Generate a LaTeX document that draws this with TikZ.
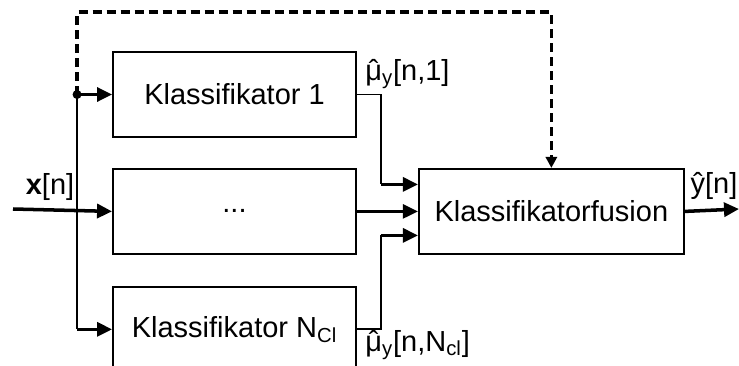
\documentclass[tikz,border=0pt]{standalone}
\usepackage{fontspec}
\setmainfont{Liberation Sans}
\usetikzlibrary{arrows.meta, positioning, calc}

\newcommand{\muhat}{{\ooalign{μ\cr\hidewidth\char"02C6\hidewidth\cr}}}

\begin{document}
\begin{tikzpicture}[x=0.02cm, y=-0.02cm, font=\fontsize{16.5}{19}\selectfont,
  block/.style={draw, line width=1.1pt, minimum width=4.86cm, minimum height=1.7cm, inner sep=0pt},
  wire/.style={line width=1.1pt},
  sig/.style={line width=1.8pt, -{Triangle[length=0.3cm, width=0.28cm]}},
  fb/.style={line width=1.9pt, dash pattern=on 0.18cm off 0.1cm, -{Triangle[length=0.22cm, width=0.22cm]}},
  lab/.style={inner sep=0pt}]
\useasboundingbox (0,0) rectangle (739,365);
\clip (0,0) rectangle (739,365);
\node[block] (kl1) at (234.5,94.5) {Klassifikator 1};
\node[block, below=0.6cm of kl1] (kldots) {...};
\node[block, below=0.62cm of kldots] (klN) {Klassifikator N\textsubscript{Cl}};
\node[block, minimum width=5.3cm, right=1.22cm of kldots] (fusion) {Klassifikatorfusion};
% input and distribution
\coordinate (xin) at (13,209);
\coordinate (split) at ($(kl1.west)+(-35,0)$);
\coordinate (splitN) at (split |- klN.west);
\coordinate (fbtop) at (78,12);
\draw[sig, line width=2pt] (xin) -- (kldots.west);
\node[lab] (xlab) at (50,187) {\textbf{x}[n]};
\draw[fb] (split) -- (split |- fbtop) -| (fusion.north);
\draw[wire] (split) -- (splitN);
\fill (split) circle[radius=0.09cm];
\draw[sig] (split) -- (kl1.west);
\draw[sig] (splitN) -- (klN.west);
% outputs into the fusion
\coordinate (in1) at ($(fusion.west)+(0,-27)$);
\coordinate (inN) at ($(fusion.west)+(0,24)$);
\coordinate (r1) at ($(kl1.east)+(24,0)$);
\coordinate (rN) at ($(klN.east)+(24,0)$);
\draw[wire] (kl1.east) -- (r1) -- (r1 |- in1);
\draw[sig] (r1 |- in1) -- (in1);
\draw[sig, line width=1.4pt] (kldots.east) -- (fusion.west);
\draw[wire] (klN.east) -- (rN) -- (rN |- inN);
\draw[sig] (rN |- inN) -- (inN);
\node[lab, anchor=west] (mu1) at (365,74) {\muhat\textsubscript{y}[n,1]};
\node[lab, anchor=west] (muN) at (365,345) {\muhat\textsubscript{y}[n,N\textsubscript{cl}]};
% result
\coordinate (yout) at (739,209);
\draw[sig, line width=2pt] (fusion.east) -- (yout);
\node[lab] (ylab) at (714,186) {ŷ[n]};
\end{tikzpicture}
\end{document}
